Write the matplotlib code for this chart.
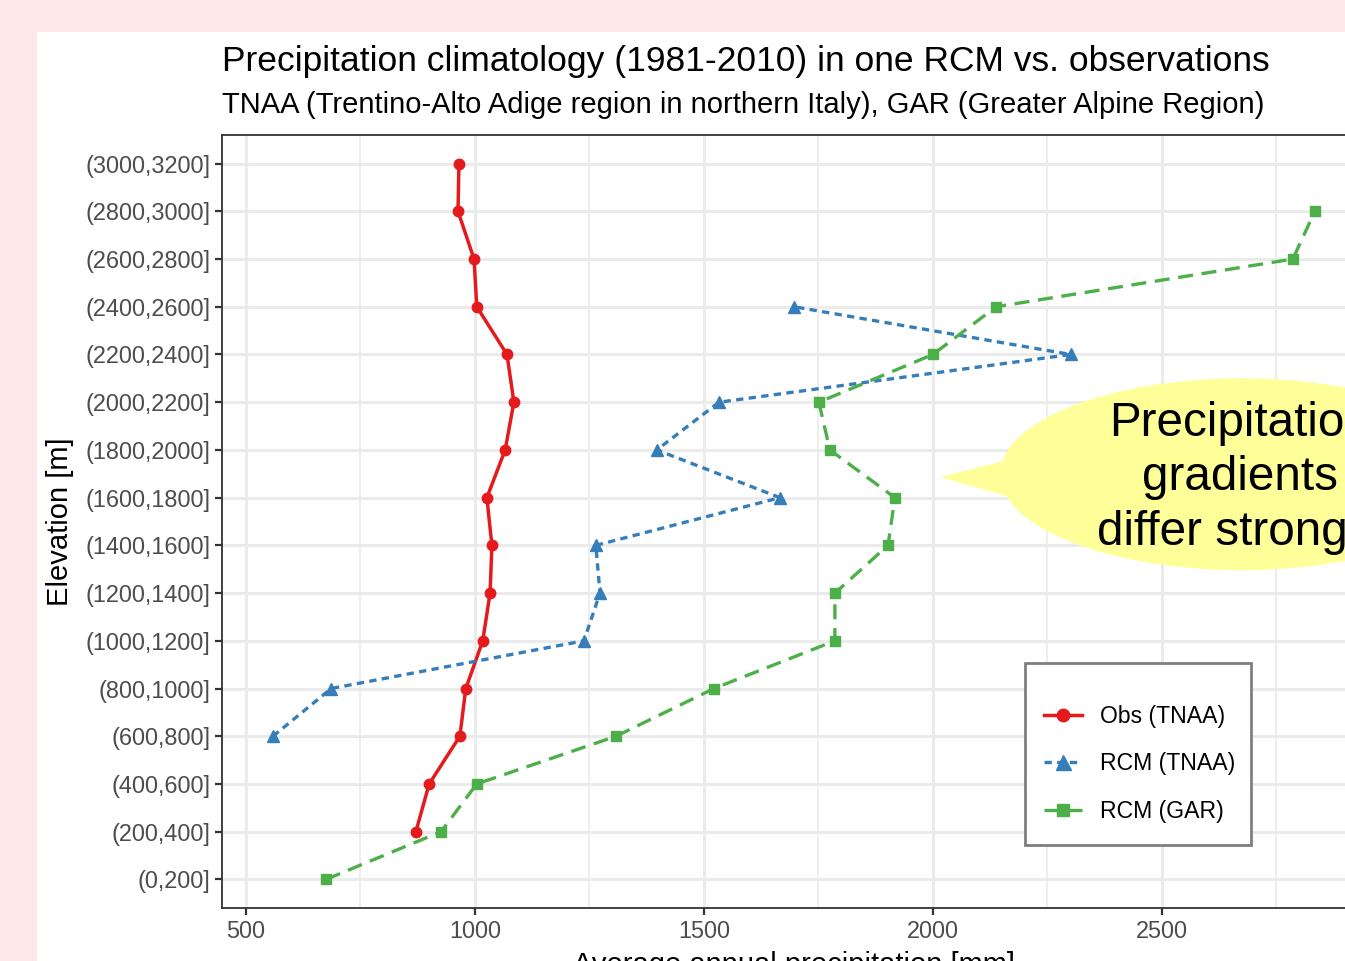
import numpy as np
import matplotlib.pyplot as plt
from matplotlib.patches import Rectangle, Ellipse, Polygon

plt.rcParams['font.family'] = ['Liberation Sans', 'DejaVu Sans']

# elevation bands, bottom to top
bands = ['(0,200]', '(200,400]', '(400,600]', '(600,800]', '(800,1000]',
         '(1000,1200]', '(1200,1400]', '(1400,1600]', '(1600,1800]',
         '(1800,2000]', '(2000,2200]', '(2200,2400]', '(2400,2600]',
         '(2600,2800]', '(2800,3000]', '(3000,3200]']

obs_tnaa = [np.nan, 871, 900, 967, 980, 1017, 1033, 1037, 1026, 1066,
            1085, 1070, 1004, 998, 963, 965]
rcm_tnaa = [np.nan, np.nan, np.nan, 559, 686, 1238, 1273, 1264, 1666, 1397,
            1533, 2301, 1697, np.nan, np.nan, np.nan]
rcm_gar = [675, 926, 1004, 1308, 1522, 1786, 1786, 1902, 1917, 1775,
           1751, 2000, 2138, 2786, 2834, np.nan]

x_ticks = [500, 1000, 1500, 2000, 2500]

red = '#E41A1C'
blue = '#377EB8'
green = '#4DAF4A'

W, H = 1345, 961
fig = plt.figure(figsize=(W / 100, H / 100), dpi=100)
fig.patch.set_facecolor('#FDE8E8')
fig.add_artist(Rectangle((37 / W, 0), 1, 1 - 32 / H, transform=fig.transFigure,
                         facecolor='white', edgecolor='none', zorder=-1))

ax = fig.add_axes([222 / W, 1 - 908 / H, (1367 - 222) / W, (908 - 135) / H])
ax.set_facecolor('white')
y = np.arange(len(bands))

ax.plot(obs_tnaa, y, color=red, lw=2.5, marker='o', ms=7.5, label='Obs (TNAA)', zorder=3)
ax.plot(rcm_tnaa, y, color=blue, lw=2.4, marker='^', ms=9, dashes=(2.2, 1.6),
        label='RCM (TNAA)', zorder=3)
ax.plot(rcm_gar, y, color=green, lw=2.4, marker='s', ms=7.5, dashes=(4.5, 2.6),
        label='RCM (GAR)', zorder=3)

ax.set_xlim(447.6, 2948)
ax.set_ylim(-0.6, len(bands) - 0.4)
ax.set_yticks(y)
ax.set_yticklabels(bands)
ax.set_xticks(x_ticks)
ax.set_xticks([750, 1250, 1750, 2250, 2750], minor=True)
ax.grid(True, which='major', color='#EBEBEB', lw=2.2)
ax.grid(True, which='minor', axis='x', color='#EBEBEB', lw=1.2)
ax.set_axisbelow(True)
ax.tick_params(which='major', labelsize=16.9, labelcolor='#4D4D4D', color='#333333',
               length=5, width=1.6)
ax.tick_params(which='minor', length=0)
for s in ax.spines.values():
    s.set_color('#333333')
    s.set_linewidth(1.3)

ax.set_ylabel('Elevation [m]', fontsize=21, labelpad=8)
ax.set_xlabel('Average annual precipitation [mm]', fontsize=21, labelpad=6)

# speech bubble
ax.add_patch(Polygon([(2015, 8.43), (2230, 8.95), (2230, 7.85)], closed=True,
                     facecolor='#FFFF99', edgecolor='none', zorder=4, clip_on=False))
ax.add_patch(Ellipse((2675, 8.49), 2 * 528, 4.02, facecolor='#FFFF99',
                     edgecolor='none', zorder=4, clip_on=False))
ax.text(2670, 8.42, 'Precipitation\ngradients\ndiffer strongly', fontsize=34.3,
        ha='center', va='center', linespacing=1.27, zorder=5, clip_on=False)

# legend box drawn separately so the padding can differ per side
ax.add_patch(Rectangle((1025 / W, 1 - 845 / H), 226 / W, 182 / H,
                       transform=fig.transFigure, facecolor='white',
                       edgecolor='#7F7F7F', lw=2, zorder=6, clip_on=False))
leg = ax.legend(loc='upper left', bbox_to_anchor=(1044 / W, 1 - 705 / H),
                bbox_transform=fig.transFigure, frameon=False,
                fontsize=16.6, handlelength=1.66, numpoints=1, labelspacing=1.06,
                borderpad=0, borderaxespad=0, handletextpad=0.79, markerscale=1.2)
leg.set_zorder(7)

fig.text(222 / W, 1 - 62 / H, 'Precipitation climatology (1981-2010) in one RCM vs. observations',
         fontsize=25.5, ha='left', va='center')
fig.text(222 / W, 1 - 105 / H,
         'TNAA (Trentino-Alto Adige region in northern Italy), GAR (Greater Alpine Region)',
         fontsize=21, ha='left', va='center')

fig.savefig('out.png', dpi=100, facecolor=fig.get_facecolor())
